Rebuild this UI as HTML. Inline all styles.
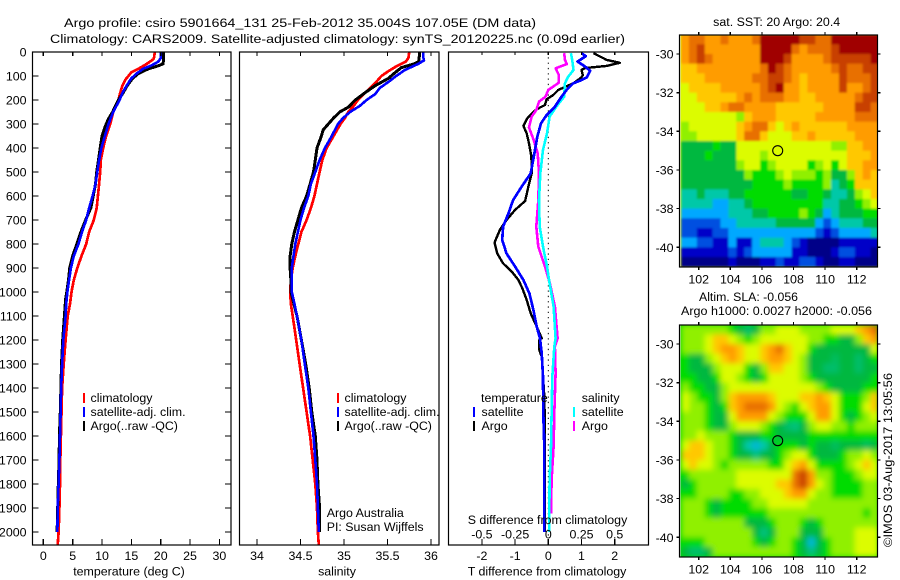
<!DOCTYPE html>
<html lang="en">
<head>
<meta charset="utf-8">
<title>Argo profile 5901664_131</title>
<style>
html,body{margin:0;padding:0;background:#fff;width:900px;height:580px;overflow:hidden}
svg{display:block}
text{font-family:"Liberation Sans",sans-serif;font-size:12.4px;fill:#000}
.frame{fill:none;stroke:#000;stroke-width:1.2}
.tick{stroke:#000;stroke-width:1.2;shape-rendering:crispEdges}
.line{fill:none;shape-rendering:crispEdges;stroke-linejoin:round}
</style>
</head>
<body>
<svg id="chart" xmlns="http://www.w3.org/2000/svg" width="900" height="580" viewBox="0 0 900 580">
  <defs>
    <clipPath id="clip-sst"><rect x="680.5" y="35" width="197" height="232"/></clipPath>
    <clipPath id="clip-sla"><rect x="680.5" y="325" width="197" height="232"/></clipPath>
    <clipPath id="clip-p1"><rect x="32" y="52" width="199" height="493"/></clipPath>
    <clipPath id="clip-p2"><rect x="239" y="52" width="200" height="493"/></clipPath>
    <clipPath id="clip-p3"><rect x="448" y="52" width="201" height="493"/></clipPath>
    <filter id="smooth" x="-5%" y="-5%" width="110%" height="110%"><feGaussianBlur stdDeviation="3"/></filter>
    <filter id="soft" x="-2%" y="-2%" width="104%" height="104%"><feGaussianBlur stdDeviation="1.1"/></filter>
  </defs>
  <text x="64" y="27" textLength="472" lengthAdjust="spacingAndGlyphs">Argo profile: csiro 5901664_131 25-Feb-2012 35.004S 107.05E (DM data)</text>
  <text x="50" y="43" textLength="575" lengthAdjust="spacingAndGlyphs">Climatology: CARS2009. Satellite-adjusted climatology: synTS_20120225.nc (0.09d earlier)</text>
  <text x="776.7" y="26" text-anchor="middle" textLength="127" lengthAdjust="spacingAndGlyphs" style="font-size:11.5px">sat. SST: 20 Argo: 20.4</text>
  <text x="699" y="301" textLength="99" lengthAdjust="spacingAndGlyphs" style="font-size:11.5px">Altim. SLA: -0.056</text>
  <text x="681" y="315" textLength="191" lengthAdjust="spacingAndGlyphs" style="font-size:11.5px">Argo h1000: 0.0027 h2000: -0.056</text>
  <text transform="translate(892,547) rotate(-90)" textLength="174" lengthAdjust="spacingAndGlyphs">©IMOS 03-Aug-2017 13:05:56</text>
  <g id="maps"></g>
  <g id="panels"></g>
</svg>
<script>
// ---------- axis tick labels ----------
var depthTicks = [0,100,200,300,400,500,600,700,800,900,1000,1100,1200,1300,1400,1500,1600,1700,1800,1900,2000];
var tempTicks = [0,5,10,15,20,25,30];
var salTicks = [34,34.5,35,35.5,36];
var dTempTicks = [-2,-1,0,1,2];
var dSalTicks = [-0.5,-0.25,0,0.25,0.5];
var lonTicks = [102,104,106,108,110,112];
var latTicks = [-30,-32,-34,-36,-38,-40];

// ---------- temperature profiles ----------
var tempClimDepth = [0,20,30,50,70,85,100,115,140,170,200,250,300,350,400,450,500,550,600,650,700,750,800,850,900,950,1000,1050,1100,1200,1300,1400,1500,1600,1700,1800,1900,2000,2054];
var tempClim = [19,18.9,18.75,17.6,16.2,15,14.5,14,13.5,13.1,12.8,11.9,11.4,10.7,10.2,9.8,9.7,9.5,9.3,9.1,8.6,7.8,7.3,6.5,5.8,5.2,4.8,4.55,4.15,3.8,3.47,3.2,3.1,3,2.9,2.85,2.75,2.6,2.45];
var tempSatDepth = [0,25,40,55,70,90,110,140,170,200,250,300,350,400,450,500,550,600,650,700,750,800,850,900,950,1000,1050,1100,1200,1300,1400,1500,1600,1700,1800,1900,2000];
var tempSat = [20,20,19.6,18.5,17,15.9,15,14.2,13.5,13,11.9,11.1,10.5,9.9,9.5,9.2,8.9,8.4,7.8,7.3,6.6,6,5.2,4.7,4.4,4.1,3.9,3.8,3.4,3.2,3.05,2.95,2.85,2.75,2.6,2.45,2.4];
var tempArgoDepth = [0,30,50,60,70,90,110,140,170,200,250,275,300,350,400,450,500,550,600,650,700,750,800,850,900,950,1000,1030,1100,1200,1300,1400,1500,1600,1700,1800,1900,2000];
var tempArgo = [20.5,20.5,20.4,19.3,17.9,16.2,15.2,14.3,13.6,12.8,11.8,11.2,10.7,10,9.7,9.4,9.1,8.9,8.5,8.1,7.2,6.4,5.7,5,4.5,4.3,4,3.8,3.6,3.3,3.1,3,2.9,2.75,2.7,2.55,2.45,2.35];

// ---------- salinity profiles ----------
var salClimDepth = [0,25,40,60,80,100,125,150,200,225,250,275,300,350,400,450,500,550,600,650,700,750,800,850,900,950,1000,1050,1100,1200,1300,1400,1500,1600,1700,1800,1900,2000,2054];
var salClim = [35.75,35.74,35.71,35.6,35.51,35.43,35.37,35.3,35.16,35.11,35.05,35.01,34.96,34.88,34.8,34.75,34.72,34.69,34.66,34.62,34.57,34.51,34.475,34.44,34.41,34.39,34.38,34.39,34.41,34.45,34.49,34.53,34.57,34.61,34.64,34.67,34.69,34.7,34.71];
var salSatDepth = [0,20,35,50,75,100,125,150,175,200,225,250,275,300,350,400,450,500,550,600,650,700,750,800,850,900,950,1000,1030,1100,1200,1300,1400,1500,1600,1700,1800,1900,2000];
var salSat = [35.91,35.91,35.92,35.85,35.7,35.6,35.51,35.41,35.36,35.26,35.18,35.07,34.99,34.93,34.86,34.78,34.72,34.67,34.62,34.59,34.54,34.5,34.47,34.44,34.42,34.4,34.4,34.4,34.42,34.46,34.51,34.55,34.59,34.62,34.65,34.67,34.69,34.7,34.71];
var salArgoDepth = [0,40,50,65,85,110,140,170,200,230,250,275,300,325,350,400,450,500,550,600,650,700,750,800,850,900,950,1000,1030,1100,1200,1300,1400,1500,1600,1700,1800,1900,2000];
var salArgo = [35.87,35.86,35.8,35.66,35.59,35.51,35.36,35.24,35.13,35.05,34.95,34.88,34.82,34.76,34.74,34.69,34.67,34.65,34.61,34.57,34.51,34.47,34.43,34.4,34.38,34.38,34.39,34.39,34.41,34.46,34.51,34.56,34.6,34.63,34.67,34.69,34.7,34.72,34.72];

// ---------- difference profiles ----------
var dTempArgoDepth = [5,33,45,58,67,75,96,106,131,158,179,197,221,235,249,276,308,339,381,436,506,561,621,658,700,742,794,839,881,915,950,985,1033,1089,1144,1193,1200,1242,1269,1325,1436,1575,1644,1783,1999];
var dTempArgo = [1.36,1.76,2.15,1.76,1.1,1,1.04,1,0.75,0.3,0.15,-0.05,-0.1,-0.3,-0.45,-0.63,-0.75,-0.65,-0.58,-0.51,-0.5,-0.6,-0.7,-1,-1.26,-1.46,-1.62,-1.54,-1.36,-1.1,-0.9,-0.78,-0.65,-0.53,-0.35,-0.2,-0.27,-0.27,-0.2,-0.17,-0.12,-0.1,-0.1,-0.1,-0.1];
var dTempSatDepth = [5,17,33,40,58,78,106,119,131,158,186,228,263,297,353,422,506,561,617,672,728,783,839,894,950,1006,1075,1144,1193,1256,1353,1506,1644,1999];
var dTempSat = [1,1.13,0.96,0.88,1.08,1.26,1.16,0.96,0.75,0.55,0.4,0.2,-0.05,-0.22,-0.33,-0.42,-0.53,-0.8,-1.06,-1.2,-1.36,-1.39,-1.26,-1,-0.75,-0.57,-0.45,-0.35,-0.25,-0.2,-0.16,-0.15,-0.12,-0.12];
var dSalSatDepth = [5,33,75,103,131,186,228,269,339,408,506,617,728,811,894,964,1061,1193,1228,1353,1506,1644,1783,1999];
var dSalSat = [0.17,0.18,0.19,0.15,0.125,0.12,0.06,0.01,-0.01,-0.04,-0.06,-0.07,-0.065,-0.04,-0.01,0.01,0.04,0.055,0.045,0.03,0.025,0.02,0.01,0.007];
var dSalArgoDepth = [5,33,50,68,96,128,158,186,207,242,269,314,367,422,506,617,728,811,894,964,1061,1193,1228,1339,1506,1644,1783,1922];
var dSalArgo = [0.12,0.125,0.14,0.055,0.08,0.08,0,-0.02,-0.07,-0.09,-0.125,-0.145,-0.11,-0.08,-0.07,-0.075,-0.09,-0.075,-0.025,0.012,0.05,0.07,0.05,0.055,0.045,0.04,0.025,0.02];

// ---------- map grids (colour-scale level per half-degree cell, north to south) ----------
var sstGrid = [
[10,11,11,10,10,11,10,10,10,11,13,13,13,13,13,12,12,11,11,13,13,13,13,13,13],
[10,11,12,10,10,10,10,10,10,10,13,13,13,13,11,10,11,11,11,12,13,13,13,13,13],
[10,11,12,11,10,10,10,10,10,10,13,13,13,12,10,10,10,10,11,12,12,12,12,12,13],
[9,9,10,10,10,10,10,10,10,10,11,13,12,11,10,10,10,10,10,11,12,11,11,12,12],
[9,9,9,10,10,10,10,10,10,11,11,12,12,11,10,9,10,10,10,10,12,11,11,11,12],
[8,9,9,9,9,10,10,10,10,10,11,12,13,10,10,9,10,10,10,10,12,10,10,11,12],
[8,8,9,9,9,9,9,10,11,10,11,11,11,10,10,9,9,10,10,10,10,10,11,12,12],
[8,8,8,9,9,10,11,11,10,10,10,10,9,9,9,9,9,9,10,10,10,10,12,12,11],
[8,8,8,8,8,8,8,7,9,10,10,10,9,9,9,9,9,10,10,10,10,10,11,11,11],
[7,8,8,8,8,8,8,9,10,11,11,9,8,9,10,9,9,9,9,9,9,10,10,10,10],
[7,7,8,8,8,8,8,9,11,11,9,8,8,8,9,9,10,9,9,9,9,9,10,10,10],
[5,5,5,5,6,5,5,8,8,8,8,8,8,8,8,8,8,8,8,7,7,9,9,10,10],
[5,5,5,6,5,5,5,8,8,8,7,8,8,8,8,8,8,8,8,8,8,9,9,9,10],
[5,5,5,5,5,5,5,7,8,8,6,7,8,8,8,8,6,7,8,6,8,9,9,10,10],
[5,5,5,5,5,5,5,5,7,6,6,6,7,8,7,7,7,6,7,5,5,7,9,10,9],
[5,5,5,5,5,5,5,5,5,6,6,6,6,7,6,6,6,6,7,4,5,6,9,9,9],
[4,4,5,4,4,4,5,5,6,6,6,6,6,6,5,5,6,6,5,4,4,5,7,8,9],
[4,4,4,4,3,3,4,4,5,6,6,6,6,6,6,6,6,6,4,4,5,5,6,7,8],
[3,3,3,3,3,3,4,4,4,5,5,6,6,6,6,7,6,5,3,4,5,5,5,6,6],
[2,2,2,2,2,3,3,4,4,4,4,4,5,5,5,5,5,3,2,3,4,4,4,5,5],
[2,2,1,1,2,2,3,3,3,3,3,3,3,3,3,3,3,2,1,2,3,3,3,3,4],
[3,3,2,2,1,1,3,1,1,3,4,4,4,3,2,1,0,0,0,0,1,1,1,1,1],
[1,1,1,1,1,1,2,1,2,3,3,3,3,3,1,1,0,0,0,1,2,2,1,1,0],
[0,0,0,0,0,0,1,0,0,0,1,1,2,1,1,2,2,1,0,0,1,1,0,0,0]
];
var slaGrid = [
[7,7,7,7,7,7,6,5,4.6,5,7,7,8,8,8,7,7,7,7,8,8,8,9,10,11],
[7,7,7,8,9,9,8,7,6,7,8,8,8,8,8,8,7,7,6,6,5,5,7,9,10],
[7,7,7,8,9,10,10,9,8,8,9,10,11,9,8,8,6,5,5,5,5,5,5,5,8],
[6,5,5,7,8,9,10,9,8,8,9,10,10,9,8,7,5,5,5,4.7,5,5,4.6,5,6],
[6,5,5,5,7,8,8,8,6,5,7,9,9,8,8,7,5,5,4.6,4.6,5,5,4.6,5,5],
[6,6,5,5,6,8,8,7,6,5,6,8,8,8,8,7,6,5,5,5,5,5,5,5,6],
[7,6,6,5,5,7,8,8,8,8,8,8,8,8,8,8,8,7,6,5,5,5,5,6,6],
[8,7,6,6,5,7,9,10,10,10,10,9,8,8,8,9,9,10,9,8,6,6,6,7,9],
[8,7,7,6,5,6,9,10,11,11,11,10,8,7,6,8,9,10,10,8,6,6,6,8,9],
[7,7,7,6,5,5,8,10,10,10,10,8,7,6,6,6,8,10,10,8,6,5,6,7,8],
[7,7,7,6,5,5,7,8,8,8,7,6,5,4.6,4.4,5,7,8,8,7,7,6,7,7,7],
[7,7,8,7,7,7,6,5,5,5,6,6,5,5,5,5,6,6,6,6,6,6,6,6,6],
[8,9,9,8,7,7,6,5,4,3.5,4,5,6,6,6,5,6,5,5,4.7,5,5,5,4.7,5],
[9,9,9,8,7,7,6,5,5,4.4,5,5,6,7,8,8,6,5,5,5,6,7,7,8,7],
[8,9,8,8,7,6,7,7,7,7,7,6,6,8,9,10,8,6,6,6,6,7,8,9,8],
[6,7,7,7,7,7,7,8,8,8,8,8,8,8,11,12,10,7,7,6,6,6,7,8,8],
[5,6,7,7,7,7,7,8,8,8,8,8,9,9,11,12,10,8,7,6,6,6,6,7,7],
[6,6,7,7,7,7,6,6,7,7,8,8,8,9,10,10,8,7,7,6,6,6,6,7,7],
[7,7,7,6,5,6,6,6,6,7,7,8,8,8,8,8,7,7,7,7,7,7,7,7,7],
[7,7,7,6,5,6,6,6,6,6,6,7,7,7,7,7,7,7,7,7,7,7,7,6,7],
[7,7,7,7,7,7,7,7,5,5,5,6,7,7,7,6,5,6,7,7,7,7,7,7,7],
[7,7,7,7,7,7,7,7,7,5,4.4,5,7,7,7,5,5,5,7,7,7,7,8,8,8],
[6,6,6,7,7,7,7,7,7,6,5,6,7,7,6,5,3.5,5,6,7,7,7,8,8,8],
[5,4.6,4.6,5,7,7,7,7,7,7,7,7,7,7,6,5,4.4,5,6,7,7,7,8,8,8]
];
var colourStops = ["#000088","#0000c8","#0050e0","#00a8ff","#00c8a8","#00b840","#00dc00","#90f000","#dcfc00","#ffc800","#ff9c00","#e87000","#c84000","#a00000"];

// ---------- axis functions ----------
function yDepth(d){return 52+d*0.24;}
function xTemp(t){return 43.3+t*5.87;}
function xSal(s){return 257+(s-34)*87;}
function xDTemp(t){return 548.3+t*33.2;}
function xDSal(s){return 548.3+s*132.8;}
function xLon(l){return 698.7+(l-102)*15.8;}
function ySstLat(l){return 54+(-30-l)*19.33;}
function ySlaLat(l){return 344+(-30-l)*19.33;}

var NS='http://www.w3.org/2000/svg';
var panelsG=document.getElementById('panels');
var mapsG=document.getElementById('maps');
function mk(tag,attrs,parent){
  var e=document.createElementNS(NS,tag);
  for(var k in attrs){e.setAttribute(k,attrs[k]);}
  parent.appendChild(e);
  return e;
}
function label(parent,name,x,y,s,anchor){
  var t=mk('text',{x:x,y:y,'text-anchor':anchor||'start'},parent);
  
  
  t.textContent=s;
  return t;
}
function tick(parent,name,x1,y1,x2,y2){
  var l=mk('line',{x1:x1,y1:y1,x2:x2,y2:y2,'class':'tick'},parent);
  
  
}
function profile(parent,name,depths,vals,xf,colour,w){
  var pts=[];
  for(var i=0;i<vals.length;i++){pts.push(xf(vals[i]).toFixed(1)+','+yDepth(depths[i]).toFixed(1));}
  var p=mk('polyline',{points:pts.join(' '),'class':'line',stroke:colour,'stroke-width':w},parent);
  
  
}
function legendBar(parent,name,x,y,colour){
  var r=mk('rect',{x:x,y:y,width:2,height:10,fill:colour},parent);
  
  
}
function frame(parent,name,x,y,w,h){
  var r=mk('rect',{x:x,y:y,width:w,height:h,'class':'frame'},parent);
  
  
}

// ---------- panel 1: temperature ----------
var p1=mk('g',{},panelsG);


var c1=mk('g',{'clip-path':'url(#clip-p1)'},p1);
profile(c1,'temperature-climatology-line',tempClimDepth,tempClim,xTemp,'#ff0000',2.7);
profile(c1,'temperature-argo-line',tempArgoDepth,tempArgo,xTemp,'#000000',3);
profile(c1,'temperature-satellite-line',tempSatDepth,tempSat,xTemp,'#0000ff',2.6);
frame(p1,'temperature-frame',32.5,52,198.5,493);
depthTicks.forEach(function(d){
  tick(p1,'depth-tick-left',32.5,yDepth(d),38.5,yDepth(d));
  tick(p1,'depth-tick-right',231,yDepth(d),225,yDepth(d));
  label(p1,'depth-label',26.5,yDepth(d)+4.5,String(d),'end');
});
tempTicks.forEach(function(t){
  tick(p1,'temperature-tick-top',xTemp(t),52,xTemp(t),56);
  tick(p1,'temperature-tick-bottom',xTemp(t),545,xTemp(t),539);
  label(p1,'temperature-tick-label',xTemp(t),560,String(t),'middle');
});
label(p1,'temperature-axis-title',129,575.5,'temperature (deg C)','middle');
legendBar(p1,'legend-climatology-swatch',83,393,'#ff0000');
legendBar(p1,'legend-satellite-swatch',83,407,'#0000ff');
legendBar(p1,'legend-argo-swatch',83,421,'#000000');
label(p1,'legend-climatology',90.5,402,'climatology');
label(p1,'legend-satellite',90.5,416,'satellite-adj. clim.');
label(p1,'legend-argo',90.5,430,'Argo(..raw -QC)');

// ---------- panel 2: salinity ----------
var p2=mk('g',{},panelsG);


var c2=mk('g',{'clip-path':'url(#clip-p2)'},p2);
profile(c2,'salinity-climatology-line',salClimDepth,salClim,xSal,'#ff0000',2.7);
profile(c2,'salinity-argo-line',salArgoDepth,salArgo,xSal,'#000000',3);
profile(c2,'salinity-satellite-line',salSatDepth,salSat,xSal,'#0000ff',2.6);
frame(p2,'salinity-frame',239.5,52,199.5,493);
salTicks.forEach(function(s){
  tick(p2,'salinity-tick-top',xSal(s),52,xSal(s),56);
  tick(p2,'salinity-tick-bottom',xSal(s),545,xSal(s),539);
  label(p2,'salinity-tick-label',xSal(s),560,String(s),'middle');
});
label(p2,'salinity-axis-title',337,575.5,'salinity','middle');
legendBar(p2,'legend-climatology-swatch',337,393,'#ff0000');
legendBar(p2,'legend-satellite-swatch',337,407,'#0000ff');
legendBar(p2,'legend-argo-swatch',337,421,'#000000');
label(p2,'legend-climatology',344.5,402,'climatology');
label(p2,'legend-satellite',344.5,416,'satellite-adj. clim.');
label(p2,'legend-argo',344.5,430,'Argo(..raw -QC)');
label(p2,'credit-argo-australia',326.7,517,'Argo Australia');
label(p2,'credit-pi',326.7,531,'PI: Susan Wijffels');

// ---------- panel 3: differences ----------
var p3=mk('g',{},panelsG);


var zero=mk('line',{x1:xDTemp(0),y1:52,x2:xDTemp(0),y2:545,stroke:'#000','stroke-width':1,'stroke-dasharray':'1.3 4'},p3);


var c3=mk('g',{'clip-path':'url(#clip-p3)'},p3);
profile(c3,'temperature-diff-argo-line',dTempArgoDepth,dTempArgo,xDTemp,'#000000',2.4);
profile(c3,'salinity-diff-argo-line',dSalArgoDepth,dSalArgo,xDSal,'#ff00ff',2.6);
profile(c3,'salinity-diff-satellite-line',dSalSatDepth,dSalSat,xDSal,'#00ffff',2.6);
profile(c3,'temperature-diff-satellite-line',dTempSatDepth,dTempSat,xDTemp,'#0000ff',2.7);
frame(p3,'difference-frame',448.5,52,200,493);
dTempTicks.forEach(function(t){
  tick(p3,'t-difference-tick-top',xDTemp(t),52,xDTemp(t),55);
  tick(p3,'t-difference-tick-bottom',xDTemp(t),545,xDTemp(t),539);
  label(p3,'t-difference-tick-label',xDTemp(t),560,String(t),'middle');
});
dSalTicks.forEach(function(s){
  label(p3,'s-difference-tick-label',xDSal(s),538.5,String(s),'middle');
});
label(p3,'s-difference-title',547.5,524,'S difference from climatology','middle');
label(p3,'t-difference-title',547,575.5,'T difference from climatology','middle');
label(p3,'legend-temperature-heading',481,402,'temperature');
label(p3,'legend-satellite',481.5,416,'satellite');
label(p3,'legend-argo',481.5,430,'Argo');
legendBar(p3,'legend-t-satellite-swatch',473,407,'#0000ff');
legendBar(p3,'legend-t-argo-swatch',473,421,'#000000');
label(p3,'legend-salinity-heading',581.7,402,'salinity');
label(p3,'legend-satellite',581.7,416,'satellite');
label(p3,'legend-argo',581.7,430,'Argo');
legendBar(p3,'legend-s-satellite-swatch',573,407,'#00ffff');
legendBar(p3,'legend-s-argo-swatch',573,421,'#ff00ff');

// ---------- maps ----------
function levelColour(v){
  var i=Math.max(0,Math.min(colourStops.length-2,Math.floor(v)));
  var f=Math.max(0,Math.min(1,v-i));
  function ch(h,o){return parseInt(h.substr(o,2),16);}
  var a=colourStops[i],b=colourStops[i+1],o=[1,3,5],out=[];
  for(var n=0;n<3;n++){out.push(Math.round(ch(a,o[n])+(ch(b,o[n])-ch(a,o[n]))*f));}
  return 'rgb('+out.join(',')+')';
}
function drawMap(name,grid,yLat,clipId,bottom,top,filterId,labelY){
  var g=mk('g',{},mapsG);
  
  
  var clip=mk('g',{'clip-path':'url(#'+clipId+')'},g);
  var bg=mk('rect',{x:675,y:top-5,width:210,height:bottom-top+10,fill:levelColour(grid[12][12])},clip);
  
  
  var cells=mk('g',{filter:'url(#'+filterId+')'},clip);
  var lon0=100.88,lat0=-29,step=0.5;
  grid.forEach(function(row,r){
    row.forEach(function(v,c){
      var x0=xLon(lon0+c*step),x1=xLon(lon0+(c+1)*step);
      var y0=yLat(lat0-r*step),y1=yLat(lat0-(r+1)*step);
      var cell=mk('rect',{x:x0.toFixed(2),y:y0.toFixed(2),width:(x1-x0+0.4).toFixed(2),height:(y1-y0+0.4).toFixed(2),fill:levelColour(v)},cells);
      
      
    });
  });
  frame(g,name+'-frame',679.5,top,198,bottom-top);
  lonTicks.forEach(function(l){
    tick(g,'longitude-tick-bottom',xLon(l),bottom,xLon(l),bottom+3);
    tick(g,'longitude-tick-top',xLon(l),top,xLon(l),top-3);
    label(g,'longitude-label',xLon(l),labelY,String(l),'middle');
  });
  latTicks.forEach(function(l){
    tick(g,'latitude-tick-left',679.5,yLat(l),676.5,yLat(l));
    tick(g,'latitude-tick-right',877.5,yLat(l),880.5,yLat(l));
    label(g,'latitude-label',673.5,yLat(l)+4.5,String(l),'end');
  });
  var marker=mk('circle',{cx:xLon(107),cy:yLat(-35),r:5,fill:'none',stroke:'#000','stroke-width':1.1},g);
  
  
}
drawMap('sst-map',sstGrid,ySstLat,'clip-sst',267,35,'soft',283.5);
drawMap('sla-map',slaGrid,ySlaLat,'clip-sla',557,325,'smooth',573.5);
</script>
</body>
</html>
